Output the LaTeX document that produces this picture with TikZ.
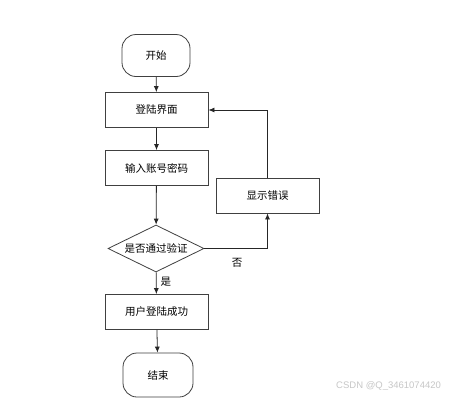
\documentclass[tikz,border=0pt]{standalone}
\usepackage{fontspec}
\setmainfont{Noto Sans CJK SC}
\newfontfamily\wmfont{Liberation Sans}
\usetikzlibrary{shapes.geometric,arrows.meta}
\begin{document}
\begin{tikzpicture}[x=1pt,y=-1pt,
  every node/.style={font=\fontsize{10.5}{12}\selectfont},
  terminal/.style={draw=black!75,line width=0.8pt,rounded corners=14pt,minimum width=68pt,minimum height=42pt,inner sep=0pt},
  procbox/.style={draw=black!75,line width=0.8pt,minimum width=103pt,minimum height=35pt,inner sep=0pt},
  decision/.style={draw=black!75,line width=0.8pt,diamond,aspect=2.04,minimum width=96pt,minimum height=47pt,inner sep=0pt},
  conn/.style={draw=black!85,line width=0.8pt,-{Latex[length=6pt,width=5pt]}},
  lbl/.style={inner sep=0pt}]
\useasboundingbox[fill=white] (0,0) rectangle (449,400);
\node[terminal] (start) at (156,55.5) {开始};
\node[procbox] (login) at (156.5,110) {登陆界面};
\node[procbox] (input) at (156.5,168) {输入账号密码};
\node[procbox] (err) at (267.5,195.5) {显示错误};
\node[decision] (check) at (156,248.5) {是否通过验证};
\node[procbox] (ok) at (156.5,312) {用户登陆成功};
\node[terminal,minimum width=70pt,minimum height=44pt] (end) at (158,375) {结束};
\draw[conn] (start) -- (login);
\draw[conn] (login) -- (input);
\draw[conn] (input) -- (check);
\draw[conn] (check) -- node[lbl,right=4pt,pos=0.45] {是} (ok);
\draw[conn] (ok) -- (end);
\draw[conn] (check.east) -| (err.south);
\draw[conn] (err.north) |- (login.east);
\node[lbl] (no) at (237,263) {否};
\node[lbl,anchor=west,text=black!22,font=\fontsize{9.5}{10}\selectfont\wmfont] (wm) at (336,386) {CSDN @Q\_3461074420};
\end{tikzpicture}
\end{document}
